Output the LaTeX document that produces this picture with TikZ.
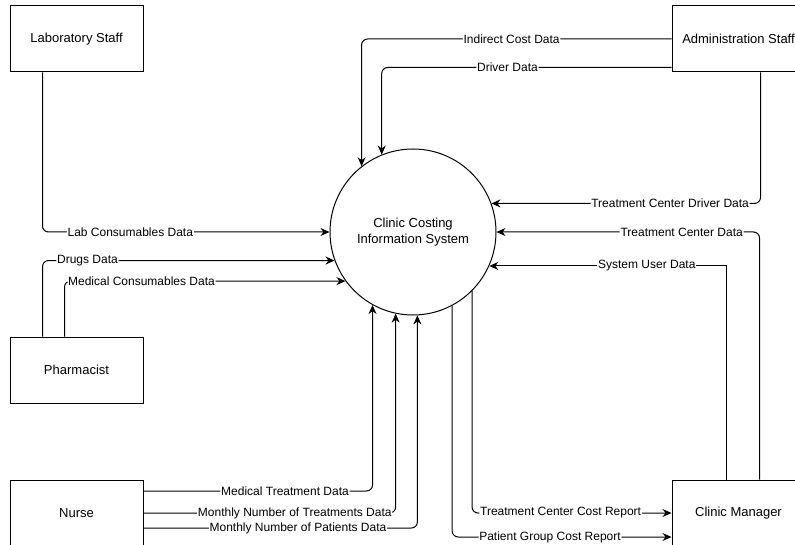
\documentclass[tikz,border=0pt]{standalone}
\usepackage{fontspec}
\setmainfont{Liberation Sans}
\usetikzlibrary{arrows.meta}

\begin{document}
\begin{tikzpicture}[x=1pt, y=-1pt,
    entity/.style={draw, line width=1pt, minimum width=133pt, minimum height=66pt, inner sep=0pt, font=\fontsize{13}{15}\selectfont},
    proc/.style={draw, circle, line width=1pt, minimum size=166pt, inner sep=0pt, align=center, font=\fontsize{13}{16}\selectfont},
    flow/.style={line width=1pt, rounded corners=6pt, -{Stealth[length=9pt, width=8pt]}},
    lbl/.style={fill=white, inner sep=0.8pt, font=\fontsize{12}{14}\selectfont}]
    \useasboundingbox (0,0) rectangle (795,545);

    % external entities and the process
    \node[entity] (lab) at (76.5,39) {Laboratory Staff};
    \node[entity] (admin) at (738.5,39) {Administration Staff};
    \node[entity] (pharm) at (76.5,370) {Pharmacist};
    \node[entity] (nurse) at (76.5,513) {Nurse};
    \node[entity] (mgr) at (738.5,513) {Clinic Manager};
    \node[proc] (sys) at (413,232) {Clinic Costing\\Information System};

    % administration staff
    \draw[flow] (admin.west) -| node[lbl, pos=0.258] {Indirect Cost Data} (sys.128);
    \draw[flow] ([yshift=5pt]admin.south west) -| node[lbl, pos=0.283] {Driver Data} (sys.112);
    \draw[flow] ([xshift=89pt]admin.south west) |- node[lbl, pos=0.668] {Treatment Center Driver Data} (sys.20.5);

    % clinic manager
    \draw[flow] ([xshift=88pt]mgr.north west) |- node[lbl, pos=0.648] {Treatment Center Data} (sys.east);
    \draw[flow, sharp corners] ([xshift=55pt]mgr.north west) |- node[lbl, pos=0.668] {System User Data} (sys.336);
    \draw[flow] (sys.315) |- node[lbl, pos=0.722] {Treatment Center Cost Report} (mgr.west);
    \draw[flow] (sys.298) |- node[lbl, pos=0.723] {Patient Group Cost Report} ([yshift=-24pt]mgr.west);

    % laboratory staff and pharmacist
    \draw[flow] ([xshift=33pt]lab.south west) |- node[lbl, pos=0.653] {Lab Consumables Data} (sys.west);
    \draw[flow] ([xshift=33pt]pharm.north west) |- node[lbl, pos=0.577] {Drugs Data} (sys.200);
    \draw[flow] ([xshift=55pt]pharm.north west) |- node[lbl, pos=0.637] {Medical Consumables Data} (sys.216);

    % nurse
    \draw[flow] ([yshift=22pt]nurse.east) -| node[lbl, pos=0.309] {Medical Treatment Data} (sys.241);
    \draw[flow] (nurse.east) -| node[lbl, pos=0.3] {Monthly Number of Treatments Data} (sys.258);
    \draw[flow] ([yshift=-15pt]nurse.east) -| node[lbl, pos=0.282] {Monthly Number of Patients Data} (sys.273.5);
\end{tikzpicture}
\end{document}
